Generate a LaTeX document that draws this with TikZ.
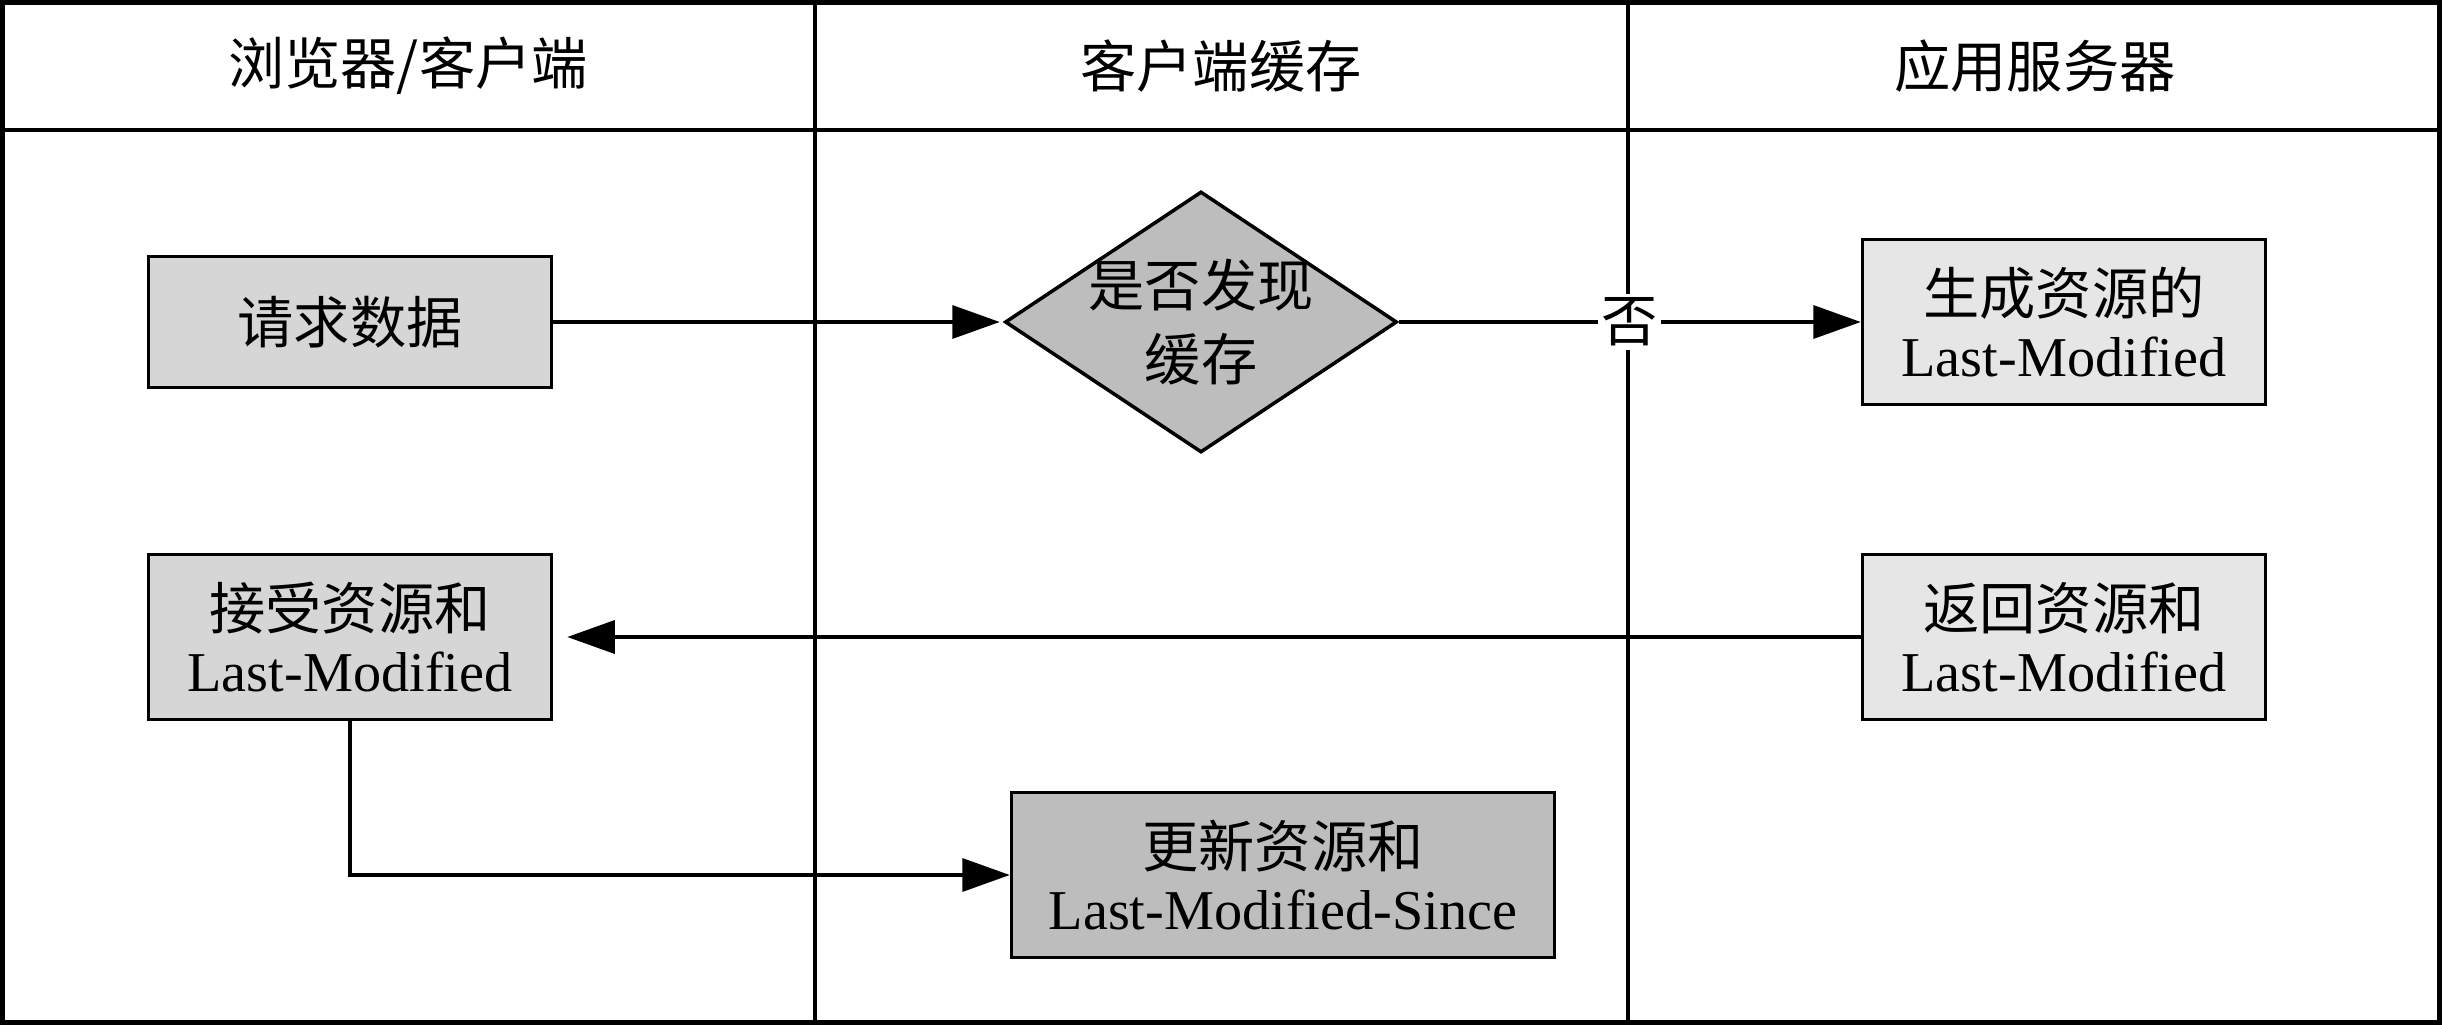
\documentclass[tikz,border=0pt]{standalone}
\usepackage{fontspec}
\setmainfont{Liberation Serif}
\newfontfamily\cjk{Noto Sans CJK SC}
\usetikzlibrary{arrows.meta,shapes.geometric}
\definecolor{boxgray}{HTML}{D6D6D6}
\definecolor{darkgray}{HTML}{BDBDBD}
\definecolor{lightgray}{HTML}{E6E6E6}
\tikzset{
	txt/.style={font=\fontsize{16}{17.6}\selectfont, align=center},
	box/.style={txt, draw, line width=1pt, minimum width=4.03cm, minimum height=1.65cm, inner sep=0pt},
	decide/.style={draw, line width=1pt, diamond, aspect=1.5, minimum width=3.92cm, minimum height=2.61cm, inner sep=0pt, fill=darkgray},
	arr/.style={line width=0.95pt, -{Triangle[length=13.5pt,width=9.4pt]}},
	lane/.style={line width=1.1pt},
}

\begin{document}
\begin{tikzpicture}
		\useasboundingbox (0,0) rectangle (24.42,-10.25);
		% lanes
		\draw[lane, line width=1.5pt] (0.02,-0.02) rectangle (24.40,-10.23);
		\draw[lane] (0.02,-1.30) -- (24.40,-1.30);
		\draw[lane] (8.15,-0.02) -- (8.15,-10.23);
		\draw[lane] (16.28,-0.02) -- (16.28,-10.23);
		\node[txt] (h1) at (4.08,-0.66) {\cjk 浏览器/客户端};
		\node[txt] (h2) at (12.21,-0.66) {\cjk 客户端缓存};
		\node[txt] (h3) at (20.35,-0.66) {\cjk 应用服务器};
		
		% steps
		\node[box, fill=boxgray, minimum height=1.31cm] (req) at (3.50,-3.22) {\cjk 请求数据};
		\node[decide, label={[txt, font=\fontsize{16}{21}\selectfont]center:{\cjk 是否发现\\\cjk 缓存}}] (found) at (12.01,-3.22) {};
		\node[box, fill=lightgray] (gen) at (20.64,-3.22) {\cjk 生成资源的\\Last-Modified};
		\node[box, fill=boxgray] (recv) at (3.50,-6.37) {\cjk 接受资源和\\Last-Modified};
		\node[box, fill=lightgray] (ret) at (20.64,-6.37) {\cjk 返回资源和\\Last-Modified};
		\node[box, fill=darkgray, minimum width=5.43cm] (upd) at (12.83,-8.75) {\cjk 更新资源和\\Last-Modified-Since};
		
		\draw[arr, shorten >=1pt] (req) -- (found);
		\draw[arr] (found) -- node[txt, fill=white, inner sep=1pt] (no) {\cjk 否} (gen);
		\draw[arr, shorten >=4pt] (ret) -- (recv);
		\draw[arr] (recv) |- (upd);
		\end{tikzpicture}
\end{document}
